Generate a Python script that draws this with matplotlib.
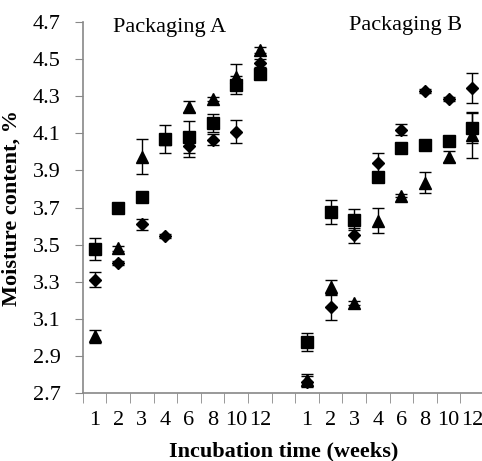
import numpy as np
import matplotlib
matplotlib.use('Agg')
import matplotlib.pyplot as plt

plt.rcParams['font.family'] = ['Liberation Serif', 'DejaVu Serif']

# x軸のラベル（週）
weeks = ['1', '2', '3', '4', '6', '8', '10', '12']
panel_names = ['Packaging A', 'Packaging B']

# Packaging A
A_diamond = [3.31, 3.40, 3.61, 3.545, 4.03, 4.065, 4.11, 4.48]
A_diamond_err = [0.04, 0.01, 0.03, 0.01, 0.06, 0.03, 0.06, 0.02]
A_square = [3.475, 3.70, 3.755, 4.07, 4.08, 4.155, 4.36, 4.42]
A_square_err = [0.06, 0.01, 0.01, 0.075, 0.085, 0.05, 0.05, 0.02]
A_triangle = [3.005, 3.48, 3.975, 4.07, 4.245, 4.285, 4.405, 4.55]
A_triangle_err = [0.035, 0.015, 0.095, 0.02, 0.027, 0.01, 0.07, 0.015]

# Packaging B
B_diamond = [2.76, 3.165, 3.55, 3.94, 4.12, 4.33, 4.285, 4.345]
B_diamond_err = [0.03, 0.07, 0.04, 0.055, 0.03, 0.01, 0.01, 0.08]
B_square = [2.975, 3.675, 3.635, 3.865, 4.02, 4.04, 4.06, 4.13]
B_square_err = [0.05, 0.065, 0.055, 0.01, 0.01, 0.02, 0.02, 0.08]
B_triangle = [2.77, 3.27, 3.185, 3.63, 3.765, 3.835, 3.975, 4.09]
B_triangle_err = [0.03, 0.04, 0.01, 0.065, 0.01, 0.055, 0.03, 0.125]

# カテゴリ位置（AとBの間に空きを1つ）
n = len(weeks)
xA = np.arange(1, n + 1)
xB = np.arange(n + 2, 2 * n + 2)

fig = plt.figure(figsize=(4.82, 4.61), dpi=100)
ax = fig.add_axes([0.172, 0.1475, 0.832, 0.8045])

gray = '#888888'
eb = dict(color='black', ecolor='black', elinewidth=1, capsize=4, capthick=1, linestyle='none')

for x, d, de, s, se, t, te in [(xA, A_diamond, A_diamond_err, A_square, A_square_err, A_triangle, A_triangle_err),
                               (xB, B_diamond, B_diamond_err, B_square, B_square_err, B_triangle, B_triangle_err)]:
    ax.errorbar(x, d, yerr=de, marker='D', markersize=6, **eb)
    ax.errorbar(x, t, yerr=te, marker='^', markersize=8, **eb)
    ax.errorbar(x, s, yerr=se, marker='s', markersize=8, **eb)

ax.set_xlim(0.5, 2 * n + 1.5)
ax.set_ylim(2.7, 4.7)
ax.set_yticks(np.arange(2.7, 4.71, 0.2))
ax.set_yticklabels(['%.1f' % v for v in np.arange(2.7, 4.71, 0.2)])

# 目盛り：ラベルは中央、目盛り線は境界
ax.set_xticks(np.concatenate([xA, xB]))
ax.set_xticklabels(weeks + weeks)
ax.set_xticks(np.arange(0.5, 2 * n + 2, 1), minor=True)
ax.tick_params(axis='x', which='major', length=0, pad=13, labelsize=16)
ax.tick_params(axis='x', which='minor', length=7, color=gray, direction='out')
ax.tick_params(axis='y', length=6, color=gray, pad=10, labelsize=16)

for side in ['top', 'right']:
    ax.spines[side].set_visible(False)
for side in ['left', 'bottom']:
    ax.spines[side].set_color(gray)
    ax.spines[side].set_linewidth(1.2)

ax.set_xlabel('Incubation time (weeks)', fontsize=16, fontweight='bold')
ax.xaxis.set_label_coords(0.5, -0.13)
ax.set_ylabel('Moisture content, %', fontsize=16, fontweight='bold')
ax.yaxis.set_label_coords(-0.152, 0.5)

ax.text(4.19, 4.673, panel_names[0], fontsize=16, ha='center', va='center')
ax.text(14.19, 4.684, panel_names[1], fontsize=16, ha='center', va='center')

fig.savefig('out.png', dpi=100)
